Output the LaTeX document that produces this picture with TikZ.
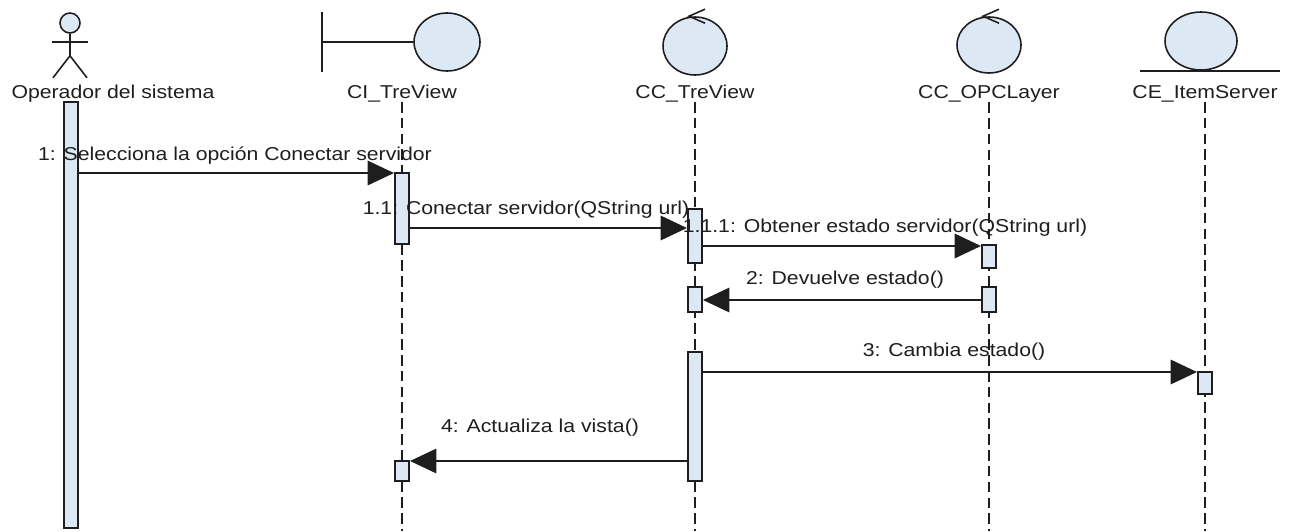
\documentclass[tikz,border=0pt]{standalone}
\usepackage{fontspec}
\setmainfont{Liberation Sans}[FakeStretch=1.14]
\usetikzlibrary{arrows.meta,shapes.geometric}
\definecolor{lifefill}{HTML}{DDE8F5}
\definecolor{ink}{HTML}{1E1E1E}

\begin{document}
\begin{tikzpicture}[x=0.02cm, y=-0.02cm,
  obj/.style={draw=ink, fill=lifefill, ellipse, line width=0.9pt, inner sep=0,
    minimum width=1.28cm, minimum height=1.16cm},
  nm/.style={font=\fontsize{10.6}{12}\selectfont, text=ink, anchor=base, inner sep=0},
  edge/.style={ink, line width=0.9pt},
  life/.style={draw=ink, dash pattern=on 6pt off 3pt, line width=0.8pt},
  bar/.style={draw=ink, fill=lifefill, line width=0.9pt, inner sep=0, minimum width=0.29cm},
  msg/.style={-{Triangle[length=15pt,width=14pt]}, ink, line width=0.8pt}]
  \useasboundingbox (0,0) rectangle (1294,531);
  \coordinate (bot) at (0,531);

  % actor
  \node[draw=ink, fill=lifefill, circle, line width=0.9pt, minimum size=0.4cm, inner sep=0] (act) at (70,23) {};
  \draw[edge] (act.south) -- ++(0,22) coordinate (hip);
  \draw[edge] (act.south) ++(-18,8) -- ++(36,0);
  \draw[edge] (hip) ++(-17,22) -- (hip) -- ++(17,22);

  % objects
  \node[obj, minimum width=1.32cm] (ci) at (447,42) {};
  \draw[edge] (ci.west) -- ++(-91,0) coordinate (bnd);
  \draw[edge] (bnd) ++(0,-30) -- ++(0,60);
  \node[obj] (ccv) at (695,46) {};
  \draw[edge] (ccv.north) ++(10,-7) -- ++(-16,7) -- ++(16,7);
  \node[obj, minimum height=1.12cm] (opc) at (989,45) {};
  \draw[edge] (opc.north) ++(10,-7) -- ++(-16,7) -- ++(16,7);
  \node[obj, minimum width=1.44cm] (ce) at (1201,41) {};
  \draw[edge] (ce.south) ++(-61,0) -- ++(140,0);

  % names
  \node[nm] (top) at (113,98) {Operador del sistema};
  \node[nm] (tci) at (402,98) {CI\_TreView};
  \node[nm] (tcc) at (695,98) {CC\_TreView};
  \node[nm] (top2) at (989,98) {CC\_OPCLayer};
  \node[nm] (tce) at (1205,98) {CE\_ItemServer};
  \foreach \t in {tci,tcc,top2,tce} {\draw[life] (\t.south) -- (\t.south |- bot);}

  % activations
  \node[bar, minimum height=8.52cm] (b0) at (71,315) {};
  \node[bar, minimum height=1.42cm] (b1) at (402,208.5) {};
  \node[bar, minimum height=1.08cm] (b2) at (695,236) {};
  \node[bar, minimum height=0.46cm] (b3) at (989,256.5) {};
  \node[bar, minimum height=0.5cm] (b4) at (989,299.5) {};
  \node[bar, minimum height=0.5cm] (b5) at (695,299.5) {};
  \node[bar, minimum height=2.58cm] (b6) at (695,416.5) {};
  \node[bar, minimum height=0.44cm] (b7) at (1205,383) {};
  \node[bar, minimum height=0.4cm] (b8) at (402,471) {};

  % messages
  \coordinate (y1) at (0,173);
  \coordinate (y2) at (0,228);
  \coordinate (y3) at (0,246);
  \coordinate (y4) at (0,300);
  \coordinate (y5) at (0,372);
  \coordinate (y6) at (0,461);
  \draw[msg] (b0.east |- y1) -- (b1.west |- y1);
  \draw[msg] (b1.east |- y2) -- (b2.west |- y2);
  \draw[msg] (b2.east |- y3) -- (b3.west |- y3);
  \draw[msg] (b4.west |- y4) -- (b5.east |- y4);
  \draw[msg] (b6.east |- y5) -- (b7.west |- y5);
  \draw[msg] (b6.west |- y6) -- (b8.east |- y6);

  \node[nm] (l1) at (235,160) {1: Selecciona la opción Conectar servidor};
  \node[nm] (l2) at (526,214) {1.1: Conectar servidor(QString url)};
  \node[nm] (l3) at (885,232) {1.1.1: Obtener estado servidor(QString url)};
  \node[nm] (l4) at (845,284) {2: Devuelve estado()};
  \node[nm] (l5) at (954,356) {3: Cambia estado()};
  \node[nm] (l6) at (540,432) {4: Actualiza la vista()};
\end{tikzpicture}
\end{document}
